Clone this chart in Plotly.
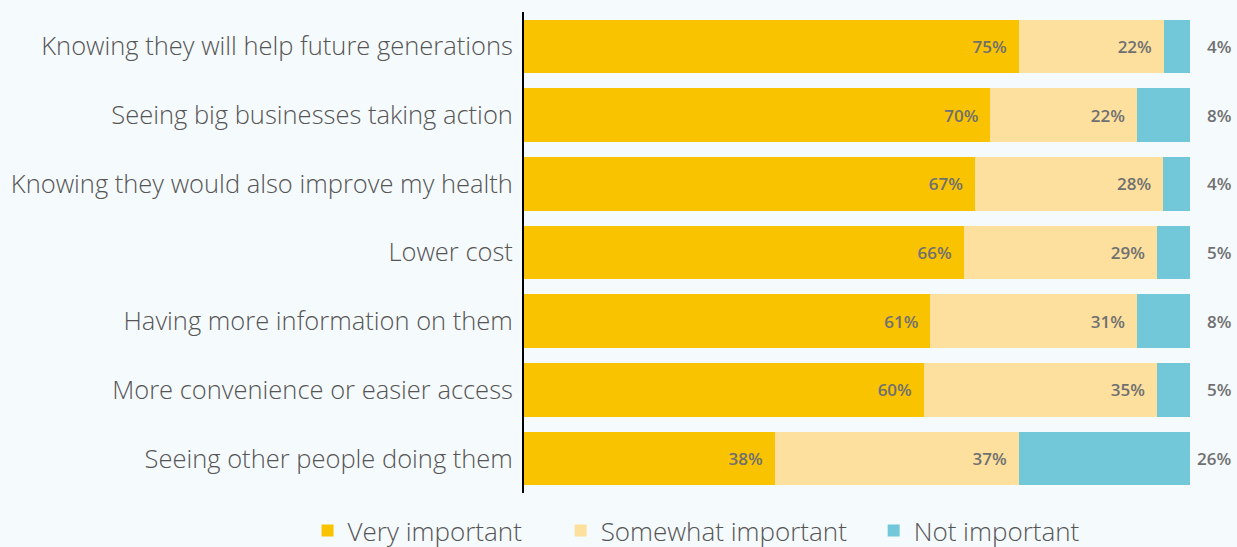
import plotly.graph_objects as go

categories = [
    "Knowing they will help future generations",
    "Seeing big businesses taking action",
    "Knowing they would also improve my health",
    "Lower cost",
    "Having more information on them",
    "More convenience or easier access",
    "Seeing other people doing them",
]
very_important = [75, 70, 67, 66, 61, 60, 38]
somewhat_important = [22, 22, 28, 29, 31, 35, 37]
not_important = [4, 8, 4, 5, 8, 5, 26]

series = [
    ("Very important", very_important, "#F9C300", "legend", -0.325),
    ("Somewhat important", somewhat_important, "#FDE09E", "legend2", 0.055),
    ("Not important", not_important, "#72C7D9", "legend3", 0.525),
]

bg = "#F5FAFD"
label_font = dict(family="Open Sans", size=17, color="#707070", weight=600)
legend_font = dict(size=26, color="#555555", weight=300)

fig = go.Figure()
legends = {}
for name, vals, color, leg, lx in series:
    last = name == "Not important"
    fig.add_trace(go.Bar(
        y=categories, x=vals, name=name, orientation="h",
        marker=dict(color=color, line=dict(width=0)),
        text=None if last else [f"{v}%\u00a0\u00a0" for v in vals],
        textposition="inside", insidetextanchor="end",
        textfont=label_font, width=0.78,
        hoverinfo="skip", legend=leg,
    ))
    legends[leg] = dict(orientation="h", x=lx, xanchor="left",
                        y=-0.078, yanchor="middle", font=legend_font,
                        itemwidth=30, bgcolor="rgba(0,0,0,0)")

# labels for the last segment sit to the right of the bars
for cat, v in zip(categories, not_important):
    fig.add_annotation(x=1, xref="paper", y=cat, yref="y", text=f"{v}%",
                       showarrow=False, xanchor="right", xshift=43,
                       font=label_font)

fig.update_layout(
    barmode="stack", barnorm="percent",
    width=1237, height=547,
    margin=dict(l=524, r=47, t=12, b=54, autoexpand=False),
    paper_bgcolor=bg, plot_bgcolor=bg,
    font=dict(family="Open Sans", color="#555555"),
    showlegend=True,
    **legends,
)
fig.update_xaxes(range=[0, 100], visible=False, fixedrange=True)
fig.update_yaxes(autorange="reversed", showline=True, linecolor="black",
                 linewidth=2, ticks="", showgrid=False,
                 tickfont=dict(size=25.5, color="#555555", weight=300),
                 ticklabelstandoff=4)

fig.write_html("out.html", config={"displayModeBar": False}, post_script=(
    "document.body.style.margin='0';"
    "document.body.style.background='" + bg + "';"
))
